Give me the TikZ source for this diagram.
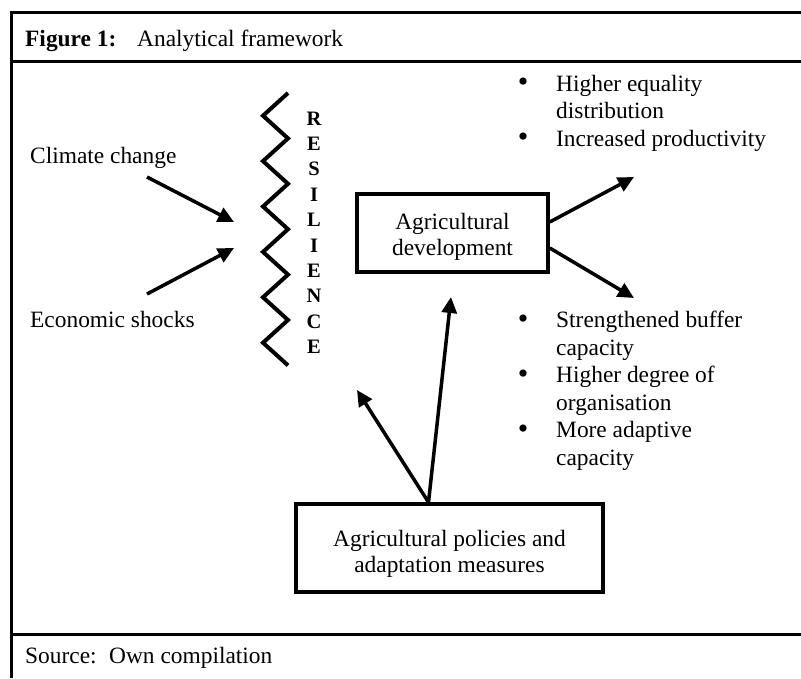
\documentclass[tikz,border=0pt]{standalone}
\usepackage{fontspec}
\setmainfont{Liberation Serif}
\usetikzlibrary{arrows.meta,calc}
\begin{document}
\begin{tikzpicture}[x=1pt,y=-1pt,
  txt/.style={inner sep=0pt, font=\fontsize{23.4}{27.3}\selectfont, align=left},
  bul/.style={inner sep=0pt, anchor=center, font=\fontsize{30}{30}\selectfont},
  boxnode/.style={draw, line width=3.5pt, align=center, inner sep=0pt,
    font=\fontsize{23.4}{26.5}\selectfont},
  arr/.style={line width=3.5pt, -{Triangle[length=16pt,width=15pt]}},
  frameline/.style={line width=3pt},
  resl/.style={inner sep=0pt, anchor=base, font=\fontsize{20.5}{20.5}\selectfont\bfseries},
  zig/.style={line width=4pt, line join=miter}
]
\useasboundingbox (0,0) rectangle (801,678);

% frame
\coordinate (ftl) at (11.5,12);
\coordinate (ftr) at (801,12);
\coordinate (fbl) at (11.5,678);
\coordinate (hl) at (11.5,61);
\coordinate (hr) at (801,61);
\coordinate (sl) at (11.5,634);
\coordinate (sr) at (801,634);
\draw[frameline] (fbl) -- (ftl) -- (ftr);
\draw[frameline] (hl) -- (hr);
\draw[frameline] (sl) -- (sr);

% header and source
\node[txt, anchor=base west] (fig) at (25,46.5) {\textbf{Figure 1:}};
\node[txt, anchor=base west] (title) at (137,46.5) {Analytical framework};
\node[txt, anchor=base west] (src) at (25,663) {Source:};
\node[txt, anchor=base west] (own) at (109,663) {Own compilation};

% left labels
\node[txt, anchor=base west] (cc) at (30,163) {Climate change};
\node[txt, anchor=base west] (es) at (30,327) {Economic shocks};

% zigzag
\draw[zig] (288,93) -- (263,115.7) -- (288,138.4) -- (263,161.1) -- (288,183.8)
  -- (263,206.5) -- (288,229.2) -- (263,251.9) -- (288,274.6) -- (263,297.3)
  -- (288,320) -- (263,342.7) -- (288,365.4);

% RESILIENCE
\foreach \L [count=\i from 0] in {R,E,S,I,L,I,E,N,C,E}{
  \node[resl] (r\i) at (314,{125+25.4*\i}) {\L};
}

% boxes
\node[boxnode, minimum width=191pt, minimum height=78pt] (ad) at (452.5,233)
  {\rule{0pt}{24pt}Agricultural\\development};
\node[boxnode, minimum width=307pt, minimum height=88pt] (ap) at (449.5,548)
  {\rule{0pt}{28pt}Agricultural policies and\\adaptation measures};

% arrows into resilience
\coordinate (ccs) at (147,177);
\coordinate (cct) at (234,222);
\coordinate (ess) at (147,294);
\coordinate (est) at (234,248);
\draw[arr] (ccs) -- (cct);
\draw[arr] (ess) -- (est);

% arrows out of agricultural development
\coordinate (ut) at (634,177);
\coordinate (lt) at (634,298);
\draw[arr] ($(ad.east)+(0,-11)$) -- (ut);
\draw[arr] ($(ad.east)+(0,15)$) -- (lt);

% arrows from policies
\coordinate (ps) at ($(ap.north)+(-21,0)$);
\coordinate (pt1) at (357,390);
\coordinate (pt2) at (451,297);
\draw[arr] (ps) -- (pt1);
\draw[arr] (ps) -- (pt2);

% bullets top right
\node[bul] (b1) at (523,85) {\textbullet};
\node[txt, anchor=base west] (i1) at (556,118.5) {Higher equality\\distribution};
\node[bul] (b2) at (523,139.5) {\textbullet};
\node[txt, anchor=base west] (i2) at (556,146) {Increased productivity};

% bullets bottom right
\node[bul] (b3) at (523,321.5) {\textbullet};
\node[txt, anchor=base west] (i3) at (556,355) {Strengthened buffer\\capacity};
\node[bul] (b4) at (523,376.5) {\textbullet};
\node[txt, anchor=base west] (i4) at (556,410) {Higher degree of\\organisation};
\node[bul] (b5) at (523,431.5) {\textbullet};
\node[txt, anchor=base west] (i5) at (556,465) {More adaptive\\capacity};
\end{tikzpicture}
\end{document}
